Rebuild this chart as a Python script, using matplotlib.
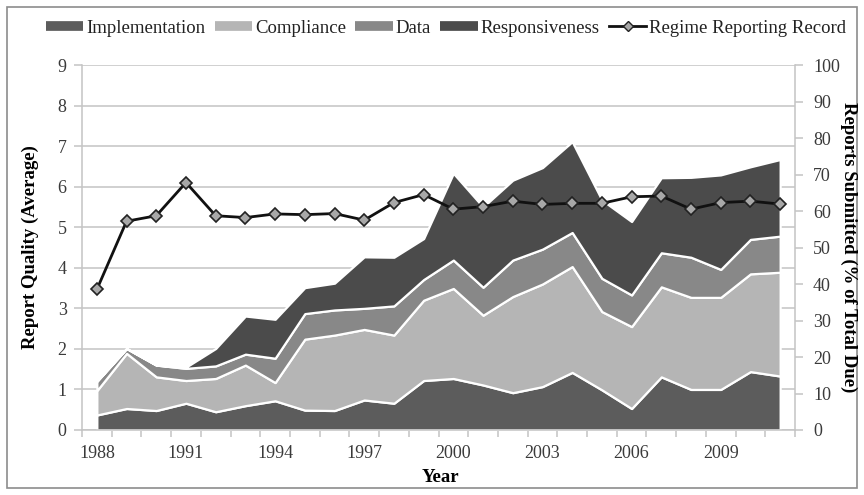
import numpy as np
import matplotlib
matplotlib.use("Agg")
import matplotlib.pyplot as plt
from matplotlib.lines import Line2D
from matplotlib.patches import Rectangle

plt.rcParams['font.family'] = ['Liberation Serif', 'DejaVu Serif']

# data
years = list(range(1988, 2012))
implementation = [0.37, 0.53, 0.48, 0.66, 0.45, 0.60, 0.72, 0.49, 0.48, 0.74, 0.66, 1.22,
                  1.27, 1.11, 0.92, 1.07, 1.42, 0.99, 0.53, 1.31, 1.00, 1.00, 1.44, 1.33]
compliance = [0.60, 1.36, 0.83, 0.56, 0.82, 1.00, 0.45, 1.75, 1.86, 1.74, 1.68, 1.98,
              2.22, 1.72, 2.37, 2.53, 2.61, 1.93, 2.02, 2.22, 2.27, 2.27, 2.41, 2.56]
data = [0.23, 0.12, 0.29, 0.30, 0.31, 0.27, 0.60, 0.63, 0.62, 0.52, 0.72, 0.51,
        0.70, 0.69, 0.90, 0.86, 0.84, 0.82, 0.78, 0.84, 0.99, 0.69, 0.85, 0.89]
responsiveness = [0.0, 0.0, 0.0, 0.03, 0.43, 0.94, 0.96, 0.64, 0.66, 1.27, 1.20, 1.01,
                  2.14, 1.98, 1.97, 2.01, 2.24, 1.93, 1.81, 1.85, 1.97, 2.33, 1.79, 1.89]
record = [38.5, 57.2, 58.7, 67.8, 58.7, 58.2, 59.2, 59.0, 59.3, 57.5, 62.3, 64.5,
          60.5, 61.2, 62.7, 61.8, 62.1, 62.1, 63.9, 64.1, 60.5, 62.3, 62.7, 61.9]

names = ['Implementation', 'Compliance', 'Data', 'Responsiveness']
colors = ['#5c5c5c', '#b5b5b5', '#888888', '#4b4b4b']
grid_c = '#c4c4c4'
tick_c = '#3a3a3a'

fig = plt.figure(figsize=(8.64, 4.95), dpi=100)
ax = fig.add_axes([82/864, 1-430/495, (795-82)/864, (430-65)/495])

ax.stackplot(years, implementation, compliance, data, responsiveness,
             colors=colors, edgecolor='white', linewidth=1.6, zorder=2)

ax.set_xlim(1987.5, 2011.5)
ax.set_ylim(0, 9)
ax.set_yticks(range(0, 10))
ax.yaxis.grid(True, color=grid_c, lw=1.1)
ax.set_axisbelow(True)
ax.set_xticks(years[::3])
ax.set_xticks(np.arange(1987.5, 2012, 1), minor=True)
ax.tick_params(axis='x', which='major', length=0, pad=11, labelsize=13, labelcolor=tick_c)
ax.tick_params(axis='x', which='minor', length=5, color=grid_c, width=1.1)
ax.tick_params(axis='y', length=6, color=grid_c, width=1.1, labelsize=13, labelcolor=tick_c, pad=5)
for s in ['left', 'bottom']:
    ax.spines[s].set_color(grid_c)
    ax.spines[s].set_linewidth(1.1)
ax.spines['top'].set_visible(False)
ax.spines['right'].set_visible(False)

ax2 = ax.twinx()
ax2.plot(years, record, color='#111111', lw=2, marker='D', markersize=6.5,
         markerfacecolor='#a8a8a8', markeredgecolor='#222222', markeredgewidth=1.2, zorder=5)
ax2.set_ylim(0, 100)
ax2.set_yticks(range(0, 101, 10))
ax2.tick_params(axis='y', length=6, color=grid_c, width=1.1, labelsize=13, labelcolor=tick_c, pad=7)
for s in ['left', 'bottom', 'top']:
    ax2.spines[s].set_visible(False)
ax2.spines['right'].set_color(grid_c)
ax2.spines['right'].set_linewidth(1.1)

# axis titles placed where the reference has them
fig.text(440/864, 1-477/495, 'Year', ha='center', va='center', fontsize=13.5, fontweight='bold')
fig.text(30/864, 1-247/495, 'Report Quality (Average)', ha='center', va='center',
         rotation=90, fontsize=13.5, fontweight='bold')
fig.text(849/864, 1-247/495, 'Reports Submitted (% of Total Due)', ha='center', va='center',
         rotation=270, fontsize=13.5, fontweight='bold')

# legend
handles = [Line2D([], [], color=c, lw=7, solid_capstyle='butt') for c in colors]
handles.append(Line2D([], [], color='#111111', lw=2, marker='D', markersize=5,
                      markerfacecolor='#a8a8a8', markeredgecolor='#222222'))
labels = names + ['Regime Reporting Record']
fig.legend(handles, labels, loc='center', bbox_to_anchor=(446/864, 1-28/495), ncol=5,
           frameon=False, fontsize=13.5, handlelength=2.0, handletextpad=0.15,
           columnspacing=0.5, labelcolor='#222222')

# outer frame
fig.patches.append(Rectangle((7/864, 7/495), 850/864, 481/495, transform=fig.transFigure,
                             fill=False, edgecolor='#8c8c8c', lw=1.2))

fig.savefig('out.png', dpi=100)
